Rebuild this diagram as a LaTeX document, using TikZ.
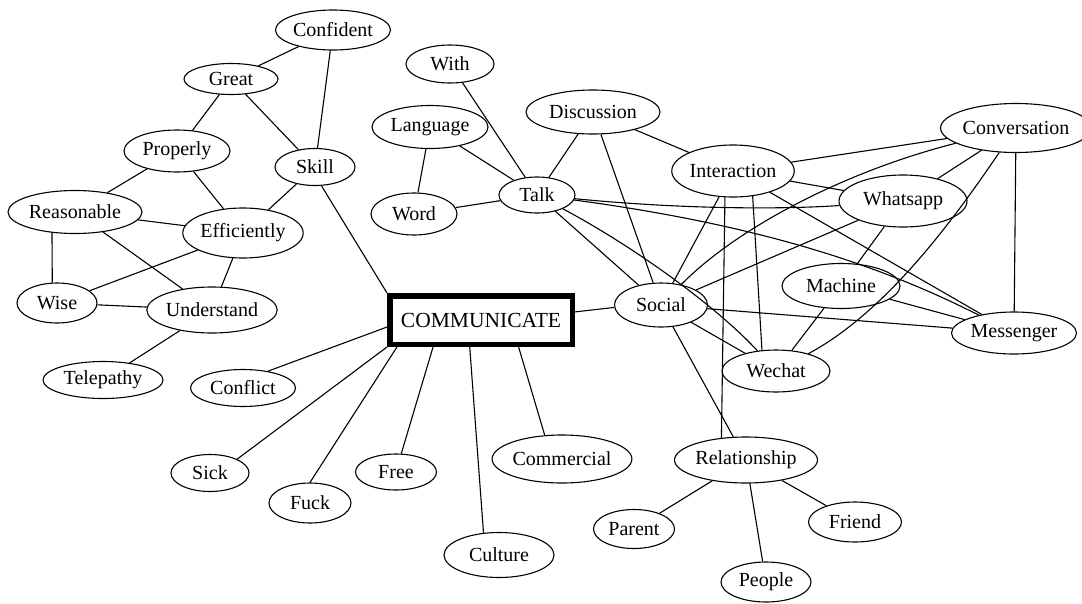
\documentclass[tikz,border=0pt]{standalone}
\usepackage{fontspec}
\setmainfont{Liberation Serif}
\usetikzlibrary{shapes.geometric,calc}
\begin{document}
\begin{tikzpicture}[x=1pt,y=-1pt,
  word/.style={ellipse, draw, line width=1.1pt, inner sep=0pt,
    font=\fontsize{20}{24}\selectfont},
  hub/.style={rectangle, draw, line width=5.5pt, inner sep=0pt,
    minimum width=182.5pt, minimum height=48.5pt,
    font=\fontsize{21.5}{24}\selectfont},
  link/.style={line width=1.1pt},
  sz/.style 2 args={minimum width=#1pt, minimum height=#2pt}]
\useasboundingbox (0,0) rectangle (1082,603);

% central term
\node[hub] (comm) at (481,320) {COMMUNICATE};

% left cluster
\node[word, sz={115}{40}] (confident) at (333,30) {Confident};
\node[word, sz={94}{31}] (great) at (231,79) {Great};
\node[word, sz={106}{42}] (properly) at (177,151) {Properly};
\node[word, sz={80}{37}] (skill) at (315,167) {Skill};
\node[word, sz={134}{43}] (reasonable) at (75,212) {Reasonable};
\node[word, sz={106}{50}] (efficiently) at (243,233) {Efficiently};
\node[word, sz={80}{40}] (wise) at (57,303) {Wise};
\node[word, sz={130}{46}] (understand) at (212,310) {Understand};
\node[word, sz={120}{37}] (telepathy) at (103,380) {Telepathy};
\node[word, sz={105}{37}] (conflict) at (243,388) {Conflict};

% lower fan
\node[word, sz={78}{37}] (sick) at (210,473) {Sick};
\node[word, sz={82}{40}] (fuck) at (310,503) {Fuck};
\node[word, sz={81}{36}] (free) at (396,472) {Free};
\node[word, sz={138}{48}] (commercial) at (562,459) {Commercial};
\node[word, sz={110}{45}] (culture) at (499,555) {Culture};

% upper middle
\node[word, sz={88}{38}] (with) at (450,64) {With};
\node[word, sz={116}{43}] (language) at (430,127) {Language};
\node[word, sz={134}{44}] (discussion) at (593,112) {Discussion};
\node[word, sz={76}{36}] (talk) at (537,195) {Talk};
\node[word, sz={86}{42}] (wordn) at (414,214) {Word};

% right cluster
\node[word, sz={93}{44}] (social) at (661,305) {Social};
\node[word, sz={121}{52}] (interaction) at (733,171) {Interaction};
\node[word, sz={132}{49}] (conversation) at (1016,128) {Conversation};
\node[word, sz={128}{52}] (whatsapp) at (903,201) {Whatsapp};
\node[word, sz={118}{45}] (machine) at (841,286) {Machine};
\node[word, sz={125}{42}] (messenger) at (1014,333) {Messenger};
\node[word, sz={108}{42}] (wechat) at (776,371) {Wechat};

% relationship group
\node[word, sz={143}{46}] (relationship) at (746,460) {Relationship};
\node[word, sz={81}{39}] (parent) at (634,529) {Parent};
\node[word, sz={93}{40}] (friend) at (855,522) {Friend};
\node[word, sz={90}{40}] (people) at (766,582) {People};

% straight connectors
\foreach \a/\b in {
  confident/great, confident/skill, great/properly, great/skill,
  properly/reasonable, properly/efficiently, skill/efficiently,
  reasonable/efficiently, reasonable/understand,
  efficiently/wise, efficiently/understand, wise/understand,
  understand/telepathy,
  with/talk, language/talk, language/wordn, wordn/talk,
  discussion/talk, discussion/social, discussion/interaction,
  talk/social,
  interaction/social, interaction/conversation, interaction/whatsapp,
  interaction/messenger,
  conversation/whatsapp, conversation/messenger,
  whatsapp/social, whatsapp/machine,
  machine/wechat, machine/messenger,
  social/messenger, social/wechat, social/relationship,
  relationship/parent, relationship/people, relationship/friend}
  \draw[link] (\a) -- (\b);

% connectors leaving off-centre
\draw[link] (reasonable.222) -- (wise.103);
\draw[link] (interaction.-107) -- (relationship.138);
\draw[link] (interaction.-52) -- (wechat.124);

% connectors meeting the central box
\draw[link] (comm.north west) -- (skill.-71);
\draw[link] ($(comm.north west)!0.63!(comm.south west)$) -- (conflict.34);
\draw[link] (comm.south west) -- (sick.27);
\draw[link] ($(comm.south west)!0.053!(comm.south east)$) -- (fuck.90);
\draw[link] ($(comm.south west)!0.245!(comm.south east)$) -- (free.74);
\draw[link] ($(comm.south west)!0.44!(comm.south east)$) -- (culture.125);
\draw[link] ($(comm.south west)!0.70!(comm.south east)$) -- (commercial.126);
\draw[link] ($(comm.north east)!0.35!(comm.south east)$) -- (social.183);

% curved connectors
\draw[link] (talk) .. controls (690,210) and (790,209) .. (whatsapp);
\draw[link] (talk) .. controls (760,225) and (880,265) .. (messenger);
\draw[link] (talk) .. controls (640,250) and (720,310) .. (wechat);
\draw[link] (conversation) .. controls (960,210) and (890,310) .. (wechat);
\draw[link] (conversation) .. controls (850,170) and (740,225) .. (social);
\end{tikzpicture}
\end{document}
